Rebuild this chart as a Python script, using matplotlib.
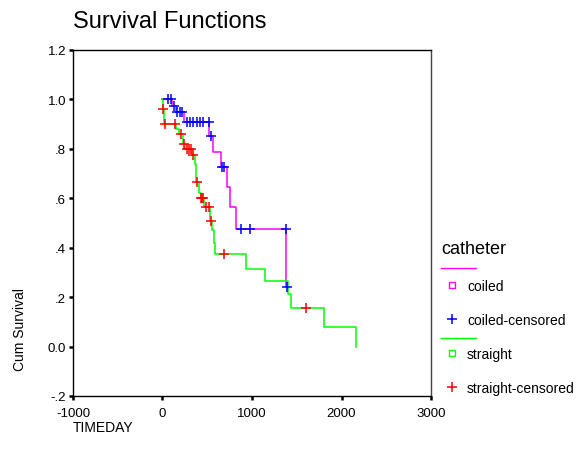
import matplotlib
matplotlib.use("Agg")
import matplotlib.pyplot as plt
from matplotlib.lines import Line2D

plt.rcParams['font.family'] = ['Liberation Sans', 'DejaVu Sans']

# straight catheter: step times and survival levels
straight_t = [0, 5, 15, 155, 180, 225, 255, 330, 360, 372, 410, 425, 460,
              530, 558, 573, 584, 938, 1147, 1403, 1433, 1799, 2160]
straight_s = [1.0, 0.96, 0.90, 0.88, 0.86, 0.82, 0.80, 0.775, 0.74, 0.665,
              0.62, 0.60, 0.565, 0.51, 0.47, 0.42, 0.375, 0.315, 0.265,
              0.213, 0.155, 0.079, 0.0]
straight_cens_t = [8, 25, 137, 212, 241, 270, 300, 320, 345, 390, 430, 440,
                   448, 484, 520, 540, 682, 1601]
straight_cens_s = [0.96, 0.90, 0.90, 0.86, 0.82, 0.80, 0.80, 0.80, 0.775,
                   0.665, 0.60, 0.60, 0.60, 0.565, 0.565, 0.51, 0.375, 0.155]

# coiled catheter
coiled_t = [0, 110, 150, 245, 525, 565, 652, 720, 756, 819, 1385, 1392]
coiled_s = [1.0, 0.975, 0.948, 0.91, 0.853, 0.787, 0.726, 0.645, 0.565,
            0.475, 0.24, 0.24]
coiled_cens_t = [56, 100, 130, 160, 197, 223, 272, 308, 346, 383, 420, 447,
                 515, 540, 665, 690, 875, 975, 1376, 1392]
coiled_cens_s = [1.0, 1.0, 0.975, 0.948, 0.948, 0.948, 0.91, 0.91, 0.91,
                 0.91, 0.91, 0.91, 0.91, 0.853, 0.726, 0.726, 0.475, 0.475,
                 0.475, 0.24]

x_ticks = [-1000, 0, 1000, 2000, 3000]
y_ticks = [1.2, 1.0, 0.8, 0.6, 0.4, 0.2, 0.0, -0.2]
y_labels = ['1.2', '1.0', '.8', '.6', '.4', '.2', '0.0', '-.2']

MAG, BLUE, GREEN, RED = '#ff00ff', '#0000ff', '#00ff00', '#ff0000'

fig = plt.figure(figsize=(5.83, 4.64), dpi=100)
ax = fig.add_axes([0.1252, 0.1444, 0.6141, 0.7457])

ax.step(coiled_t, coiled_s, where='post', color=MAG, lw=1.1)
ax.step(straight_t, straight_s, where='post', color=GREEN, lw=1.1)
ax.plot(coiled_cens_t, coiled_cens_s, '+', color=BLUE, ms=7, mew=1.1)
ax.plot(straight_cens_t, straight_cens_s, '+', color=RED, ms=7, mew=1.1)

ax.set_xlim(-1000, 3000)
ax.set_ylim(-0.2, 1.2)
ax.set_xticks(x_ticks)
ax.set_xticklabels([str(v) for v in x_ticks])
ax.set_yticks(y_ticks)
ax.set_yticklabels(y_labels)
ax.tick_params(direction='out', length=3, width=1.8, labelsize=9.5, pad=2)
ax.tick_params(axis='x', pad=5)
for s in ax.spines.values():
    s.set_linewidth(1.0)
    s.set_color('black')
ax.spines['right'].set_color('#444444')

fig.text(73 / 583, 1 - 22 / 464, 'Survival Functions', fontsize=17,
         ha='left', va='center')
fig.text(20 / 583, 1 - 330 / 464, 'Cum Survival', fontsize=10,
         rotation=90, ha='center', va='center')
fig.text(73 / 583, 1 - 428 / 464, 'TIMEDAY', fontsize=10,
         ha='left', va='center')

# legend drawn by hand
def fx(px):
    return px / 583

def fy(py):
    return 1 - py / 464

fig.text(fx(441), fy(250), 'catheter', fontsize=13, ha='left', va='center')
fig.add_artist(Line2D([fx(441), fx(476)], [fy(269), fy(269)], color=MAG,
                      lw=1.0, transform=fig.transFigure))
fig.add_artist(Line2D([fx(441), fx(476)], [fy(339), fy(339)], color=GREEN,
                      lw=1.0, transform=fig.transFigure))
items = [
    (286, 's', MAG, 'coiled'),
    (320, '+', BLUE, 'coiled-censored'),
    (354, 's', GREEN, 'straight'),
    (388, '+', RED, 'straight-censored'),
]
for py, mk, col, lab in items:
    if mk == 's':
        fig.add_artist(Line2D([fx(452)], [fy(py)], marker='s', ms=4,
                              mfc='white', mec=col, mew=1.0, ls='none',
                              transform=fig.transFigure))
    else:
        fig.add_artist(Line2D([fx(452)], [fy(py)], marker='+', ms=7,
                              color=col, mew=1.1, ls='none',
                              transform=fig.transFigure))
    fig.text(fx(467), fy(py + 1), lab, fontsize=10, ha='left', va='center')

fig.savefig('out.png', dpi=100)
